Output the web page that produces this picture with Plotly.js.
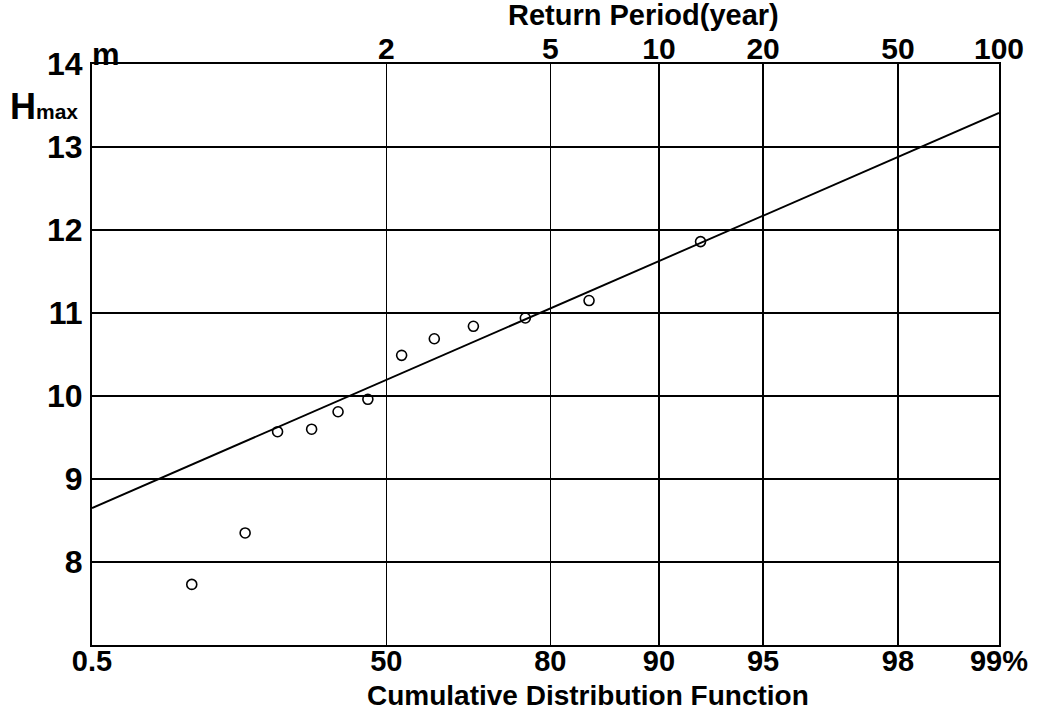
<!DOCTYPE html>
<html>
<head>
<meta charset="utf-8">
<script src="https://cdn.plot.ly/plotly-3.0.1.min.js"></script>
<style>html,body{margin:0;padding:0;background:#fff;}#chart{width:1058px;height:712px;}</style>
</head>
<body>
<div id="chart"></div>
<script>
// ---- data ----
var probPct = [7.0, 15.9, 23.0, 31.3, 38.0, 45.5, 53.6, 60.8, 68.4, 76.7, 84.3, 92.4];
var hmax    = [7.73, 8.35, 9.57, 9.60, 9.81, 9.96, 10.49, 10.69, 10.84, 10.94, 11.15, 11.86];
var fitProb = [0.5, 99];
var fitH    = [8.65, 13.41];
var cdfTicks = [0.5, 50, 80, 90, 95, 98, 99];
var cdfTickText = ['0.5', '50', '80', '90', '95', '98', '99%'];
var returnPeriods = [2, 5, 10, 20, 50, 100];
var returnTickText = ['2', '5', '10', '20', '50', '100'];
var hTicks = [8, 9, 10, 11, 12, 13, 14];
var hTickText = ['8', '9', '10', '11', '12', '13', '14'];

// Gumbel reduced variate for a cumulative probability in percent
function gumbel(p) { return -Math.log(-Math.log(p / 100)); }

var L = 92, R = 999, T = 64, B = 645, W = 1058, H = 712;
function px2x(px) { return (px - L) / (R - L); }
function py2y(py) { return (B - py) / (B - T); }

var FONT = 'Liberation Sans, Arial, sans-serif';
var xr = [gumbel(cdfTicks[0]), gumbel(cdfTicks[cdfTicks.length - 1])];
var yTickFont = {family: FONT, size: 32, weight: 'bold', color: '#000'};
var xTickFont = {family: FONT, size: 29, weight: 'bold', color: '#000'};
var topTickFont = {family: FONT, size: 30, weight: 'bold', color: '#000'};

var traces = [
  {
    x: fitProb.map(gumbel), y: fitH, type: 'scatter', mode: 'lines',
    line: {color: '#000', width: 1.9}, hoverinfo: 'skip', showlegend: false
  },
  {
    x: probPct.map(gumbel), y: hmax, type: 'scatter', mode: 'markers',
    marker: {symbol: 'circle-open', size: 10, color: '#000', line: {width: 1.6, color: '#000'}},
    showlegend: false
  },
  {
    x: returnPeriods.map(function (t) { return gumbel(100 * (1 - 1 / t)); }),
    y: returnPeriods.map(function () { return null; }),
    xaxis: 'x2', type: 'scatter', mode: 'markers', showlegend: false, hoverinfo: 'skip'
  }
];

var layout = {
  width: W, height: H,
  margin: {l: L, r: W - R, t: T, b: H - B, pad: 0},
  paper_bgcolor: '#fff', plot_bgcolor: '#fff',
  font: {family: FONT, color: '#000'},
  showlegend: false,
  xaxis: {
    range: xr, tickmode: 'array',
    tickvals: cdfTicks.map(gumbel), ticktext: cdfTickText,
    showgrid: true, gridcolor: '#000', gridwidth: 1.5,
    showline: true, linecolor: '#000', linewidth: 2, mirror: true,
    zeroline: false, ticks: '', ticklabelstandoff: -11,
    tickfont: xTickFont
  },
  xaxis2: {
    overlaying: 'x', side: 'top', matches: 'x', range: xr, tickmode: 'array',
    tickvals: returnPeriods.map(function (t) { return gumbel(100 * (1 - 1 / t)); }),
    ticktext: returnTickText, showgrid: false, zeroline: false, ticks: '',
    showline: false, ticklabelstandoff: -2,
    tickfont: topTickFont
  },
  yaxis: {
    range: [7, 14], tickmode: 'array', tickvals: hTicks, ticktext: hTickText,
    showgrid: true, gridcolor: '#000', gridwidth: 1.5,
    showline: true, linecolor: '#000', linewidth: 2, mirror: true,
    zeroline: false, ticks: '', ticklabelstandoff: 1,
    tickfont: yTickFont
  },
  annotations: [
    {text: 'Cumulative Distribution Function', xref: 'paper', yref: 'paper',
     x: px2x(588), y: py2y(695), xanchor: 'center', yanchor: 'middle', showarrow: false,
     font: {family: FONT, size: 28, weight: 'bold', color: '#000'}},
    {text: 'Return Period(year)', xref: 'paper', yref: 'paper',
     x: px2x(643), y: py2y(15), xanchor: 'center', yanchor: 'middle', showarrow: false,
     font: {family: FONT, size: 29, weight: 'bold', color: '#000'}},
    {text: 'm', xref: 'paper', yref: 'paper',
     x: px2x(90), y: py2y(54), xanchor: 'left', yanchor: 'middle', showarrow: false,
     font: {family: FONT, size: 31, weight: 'bold', color: '#000'}},
    {text: 'H<span style="font-size:21px">max</span>', xref: 'paper', yref: 'paper',
     x: px2x(8), y: py2y(106), xanchor: 'left', yanchor: 'middle', showarrow: false,
     font: {family: FONT, size: 36, weight: 'bold', color: '#000'}}
  ]
};

Plotly.newPlot('chart', traces, layout, {displayModeBar: false, staticPlot: true});
</script>
</body>
</html>
